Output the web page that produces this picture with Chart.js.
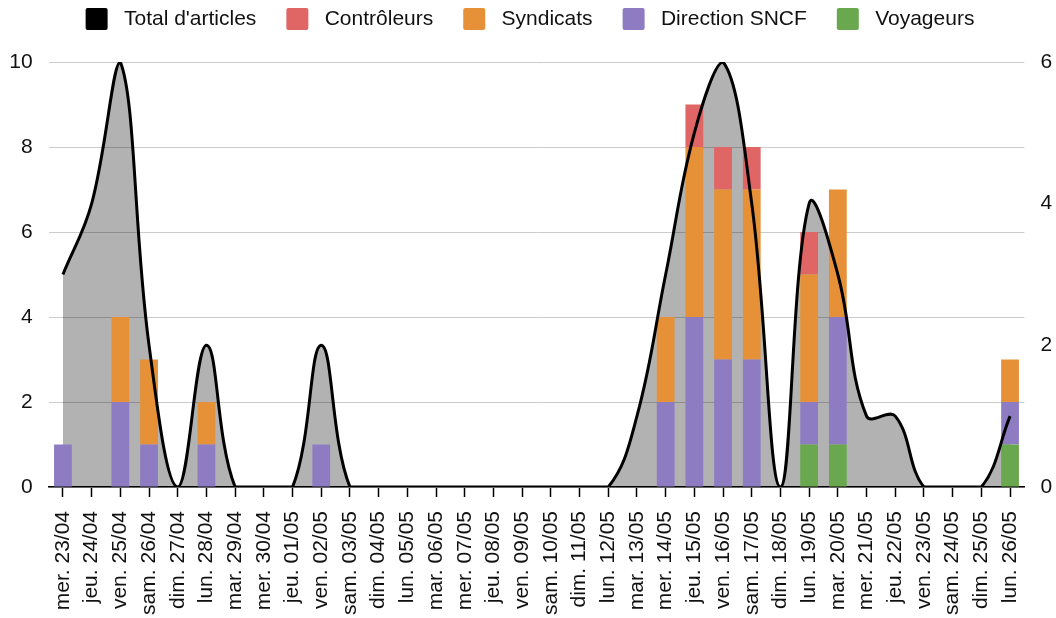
<!DOCTYPE html>
<html>
<head>
<meta charset="utf-8">
<script src="https://cdn.jsdelivr.net/npm/chart.js@4.4.1/dist/chart.umd.min.js"></script>
<style>
    html, body { margin: 0; padding: 0; background: #fff; }
</style>
</head>
<body>
<canvas id="chart" width="1056" height="618"></canvas>
<script>
// Days on the x axis
const days = [
    'mer. 23/04', 'jeu. 24/04', 'ven. 25/04', 'sam. 26/04', 'dim. 27/04', 'lun. 28/04',
    'mar. 29/04', 'mer. 30/04', 'jeu. 01/05', 'ven. 02/05', 'sam. 03/05', 'dim. 04/05',
    'lun. 05/05', 'mar. 06/05', 'mer. 07/05', 'jeu. 08/05', 'ven. 09/05', 'sam. 10/05',
    'dim. 11/05', 'lun. 12/05', 'mar. 13/05', 'mer. 14/05', 'jeu. 15/05', 'ven. 16/05',
    'sam. 17/05', 'dim. 18/05', 'lun. 19/05', 'mar. 20/05', 'mer. 21/05', 'jeu. 22/05',
    'ven. 23/05', 'sam. 24/05', 'dim. 25/05', 'lun. 26/05'
];

// Total d'articles (right axis)
const total       = [3, 4, 6, 2, 0, 2, 0, 0, 0, 2, 0, 0, 0, 0, 0, 0, 0, 0, 0, 0, 1, 3, 5, 6, 4, 0, 4, 3, 1, 1, 0, 0, 0, 1];

// Stacked bars (left axis)
const controleurs = [0, 0, 0, 0, 0, 0, 0, 0, 0, 0, 0, 0, 0, 0, 0, 0, 0, 0, 0, 0, 0, 0, 1, 1, 1, 0, 1, 0, 0, 0, 0, 0, 0, 0];
const syndicats   = [0, 0, 2, 2, 0, 1, 0, 0, 0, 0, 0, 0, 0, 0, 0, 0, 0, 0, 0, 0, 0, 2, 4, 4, 4, 0, 3, 3, 0, 0, 0, 0, 0, 1];
const direction   = [1, 0, 2, 1, 0, 1, 0, 0, 0, 1, 0, 0, 0, 0, 0, 0, 0, 0, 0, 0, 0, 2, 4, 3, 3, 0, 1, 3, 0, 0, 0, 0, 0, 1];
const voyageurs   = [0, 0, 0, 0, 0, 0, 0, 0, 0, 0, 0, 0, 0, 0, 0, 0, 0, 0, 0, 0, 0, 0, 0, 0, 0, 0, 1, 1, 0, 0, 0, 0, 0, 1];

const leftTicks = [0, 2, 4, 6, 8, 10];
const rightTicks = [0, 2, 4, 6];

Chart.defaults.font.family = '"Liberation Sans", Arial, sans-serif';
Chart.defaults.font.size = 21;
Chart.defaults.color = '#111';

const barStyle = {
    type: 'bar',
    yAxisID: 'y',
    stack: 'a',
    borderWidth: 0,
    barPercentage: 0.62,
    categoryPercentage: 1
};

const chart = new Chart(document.getElementById('chart'), {
    type: 'bar',
    data: {
        labels: days,
        datasets: [
            {
                type: 'line',
                label: "Total d'articles",
                data: total,
                yAxisID: 'y1',
                borderColor: '#000',
                borderWidth: 3,
                backgroundColor: 'rgba(0,0,0,0.3)',
                fill: 'origin',
                pointRadius: 0,
                tension: 0.4,
                order: 0
            },
            { ...barStyle, label: 'Contrôleurs', data: controleurs, backgroundColor: '#e06666', order: 4 },
            { ...barStyle, label: 'Syndicats', data: syndicats, backgroundColor: '#e69138', order: 3 },
            { ...barStyle, label: 'Direction SNCF', data: direction, backgroundColor: '#8e7cc3', order: 2 },
            { ...barStyle, label: 'Voyageurs', data: voyageurs, backgroundColor: '#6aa84f', order: 1 }
        ]
    },
    options: {
        responsive: false,
        animation: false,
        devicePixelRatio: 1,
        layout: { padding: { top: 0, right: 0, bottom: 0, left: 4 } },
        plugins: {
            filler: { drawTime: 'beforeDatasetsDraw' },
            tooltip: { enabled: false },
            legend: {
                position: 'top',
                labels: {
                    boxWidth: 22,
                    boxHeight: 22,
                    padding: 30,
                    color: '#111',
                    useBorderRadius: true,
                    borderRadius: 2,
                    sort: (a, b) => a.datasetIndex - b.datasetIndex,
                    generateLabels: (chart) => {
                        const items = Chart.defaults.plugins.legend.labels.generateLabels(chart);
                        items.forEach(it => {
                            if (it.datasetIndex === 0) {
                                it.fillStyle = '#000';
                            }
                            it.text = ' ' + it.text;
                            it.lineWidth = 0;
                            it.strokeStyle = 'rgba(0,0,0,0)';
                        });
                        return items;
                    }
                }
            }
        },
        scales: {
            x: {
                stacked: true,
                offset: true,
                grid: { offset: false, drawOnChartArea: false, drawTicks: true, tickLength: 10, color: '#000', tickWidth: 1.5 },
                border: { color: '#000', width: 1.5 },
                ticks: { autoSkip: false, minRotation: 90, maxRotation: 90, padding: 14 },
                afterFit: (s) => { s.height = 131; }
            },
            y: {
                stacked: true,
                min: 0,
                max: 10,
                afterBuildTicks: (s) => { s.ticks = leftTicks.map(v => ({ value: v })); },
                ticks: { padding: 16 },
                grid: { color: '#cccccc', drawTicks: false },
                border: { display: false },
                afterFit: (s) => { s.width = 44.6; }
            },
            y1: {
                position: 'right',
                min: 0,
                max: 6,
                afterBuildTicks: (s) => { s.ticks = rightTicks.map(v => ({ value: v })); },
                ticks: { padding: 16 },
                grid: { display: false, drawTicks: false },
                border: { display: false },
                afterFit: (s) => { s.width = 31.6; }
            }
        }
    }
});

// Legend sits higher than Chart.js puts it
const legendDraw = chart.legend.draw;
chart.legend.draw = function () {
    const ctx = this.ctx;
    ctx.save();
    ctx.translate(0, -22);
    legendDraw.apply(this, arguments);
    ctx.restore();
};
chart.draw();
</script>
</body>
</html>
